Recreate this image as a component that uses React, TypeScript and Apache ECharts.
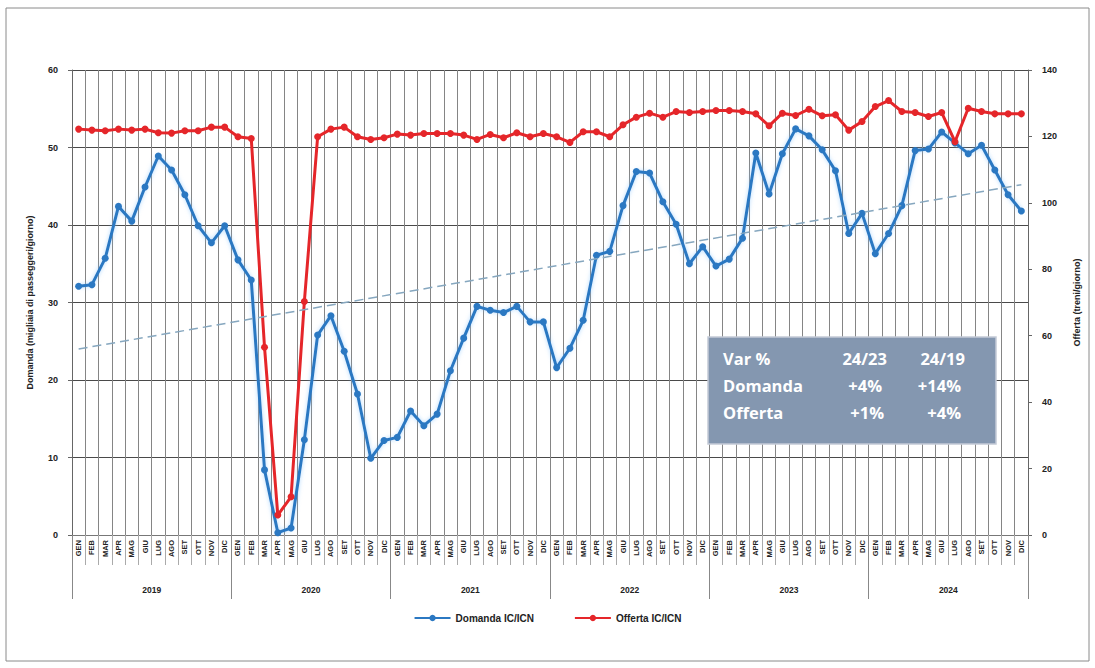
import React, { useEffect, useRef } from "react";
import * as echarts from "echarts";

const months = ["GEN", "FEB", "MAR", "APR", "MAG", "GIU", "LUG", "AGO", "SET", "OTT", "NOV", "DIC"];
const years = ["2019", "2020", "2021", "2022", "2023", "2024"];

const domanda = [
  32.1, 32.3, 35.7, 42.4, 40.5, 44.9, 48.9, 47.1, 43.9, 39.9, 37.7, 39.9,
  35.5, 32.9, 8.4, 0.3, 0.9, 12.3, 25.8, 28.3, 23.7, 18.2, 9.9, 12.2,
  12.6, 16.0, 14.1, 15.6, 21.2, 25.4, 29.5, 29.0, 28.7, 29.5, 27.5, 27.5,
  21.6, 24.1, 27.7, 36.1, 36.6, 42.5, 46.9, 46.7, 43.0, 40.1, 35.0, 37.2,
  34.7, 35.6, 38.3, 49.3, 44.0, 49.2, 52.4, 51.5, 49.7, 47.0, 38.9, 41.5,
  36.3, 38.9, 42.5, 49.6, 49.8, 52.0, 50.6, 49.2, 50.3, 47.1, 43.9, 41.8,
];

const offerta = [
  122.2, 121.9, 121.7, 122.2, 121.9, 122.2, 121.1, 121.0, 121.7, 121.7, 122.8, 122.8,
  119.9, 119.4, 56.5, 6.0, 11.5, 70.3, 119.9, 122.2, 122.8, 119.9, 119.1, 119.6,
  120.7, 120.4, 120.9, 120.9, 120.9, 120.4, 119.1, 120.6, 119.6, 121.1, 119.9, 120.9,
  119.9, 118.2, 121.4, 121.4, 119.9, 123.5, 125.8, 127.0, 125.8, 127.5, 127.2, 127.5,
  127.8, 127.8, 127.5, 126.8, 123.2, 127.0, 126.3, 128.2, 126.2, 126.5, 121.9, 124.5,
  129.0, 130.8, 127.5, 127.2, 126.0, 127.2, 118.4, 128.5, 127.5, 126.8, 126.8, 126.8,
];

// trend line endpoints (demand, first and last month)
const trendStart = 24.0;
const trendEnd = 45.2;

const boxRows = [
  ["Var %", "24/23", "24/19"],
  ["Domanda", "+4%", "+14%"],
  ["Offerta", "+1%", "+4%"],
];

const categories: string[] = [];
years.forEach((y) => months.forEach((m) => categories.push(m + "|" + y)));

const FONT = "'Liberation Sans', Arial, sans-serif";
const BOXFONT = "bold 16.5px 'Open Sans', Lato, sans-serif";

export default function App() {
  const ref = useRef<HTMLDivElement>(null);
  useEffect(() => {
    const chart = echarts.init(ref.current!, undefined, { renderer: "svg" });
    const boxX = 708;
    const boxY = 337;
    const rowY = [358, 385, 412];
    const boxTexts: any[] = [];
    boxRows.forEach((row, r) => {
      boxTexts.push({
        type: "text",
        x: boxX + 15,
        y: rowY[r],
        style: { text: row[0], fill: "#ffffff", font: BOXFONT, align: "left", verticalAlign: "middle" },
      });
      boxTexts.push({
        type: "text",
        x: r === 0 ? 887 : r === 1 ? 882 : 884,
        y: rowY[r],
        style: { text: row[1], fill: "#ffffff", font: BOXFONT, align: "right", verticalAlign: "middle" },
      });
      boxTexts.push({
        type: "text",
        x: r === 0 ? 965 : 961,
        y: rowY[r],
        style: { text: row[2], fill: "#ffffff", font: BOXFONT, align: "right", verticalAlign: "middle" },
      });
    });

    chart.setOption({
      animation: false,
      backgroundColor: "#ffffff",
      grid: { left: 72, right: 67, top: 70, bottom: 133, containLabel: false },
      legend: {
        bottom: 40,
        left: "center",
        itemWidth: 36,
        itemHeight: 8,
        itemGap: 40,
        textStyle: { fontFamily: FONT, fontSize: 10, fontWeight: "bold", color: "#222" },
        data: ["Domanda IC/ICN", "Offerta IC/ICN"],
      },
      xAxis: [
        {
          type: "category",
          data: categories,
          boundaryGap: true,
          axisLine: { show: true, lineStyle: { color: "#777", width: 1 } },
          axisTick: { show: true, interval: 0, length: 30, lineStyle: { color: "#aaa" } },
          splitLine: { show: true, interval: 0, lineStyle: { color: "#858585", width: 1 } },
          axisLabel: {
            interval: 0,
            rotate: 90,
            margin: 5,
            fontFamily: FONT,
            fontSize: 7.5,
            fontWeight: "bold",
            color: "#222",
            formatter: (v: string) => v.split("|")[0],
          },
        },
        {
          type: "category",
          data: years,
          position: "bottom",
          boundaryGap: true,
          axisLine: { show: false },
          axisTick: { show: true, interval: 0, length: 64, lineStyle: { color: "#888" } },
          splitLine: { show: false },
          axisLabel: { margin: 50, fontFamily: FONT, fontSize: 8.5, fontWeight: "bold", color: "#222" },
        },
      ],
      yAxis: [
        {
          type: "value",
          min: 0,
          max: 60,
          interval: 10,
          name: "Domanda (migliaia di passeggeri/giorno)",
          nameLocation: "middle",
          nameRotate: 90,
          nameGap: 38,
          nameTextStyle: { fontFamily: FONT, fontSize: 9, fontWeight: "bold", color: "#222" },
          axisLine: { show: true, lineStyle: { color: "#666" } },
          axisTick: { show: true, length: 4, lineStyle: { color: "#666" } },
          axisLabel: { margin: 14, fontFamily: FONT, fontSize: 9, fontWeight: "bold", color: "#222" },
          splitLine: { show: true, lineStyle: { color: "#4a4a4a", width: 1 } },
        },
        {
          type: "value",
          min: 0,
          max: 140,
          interval: 20,
          position: "right",
          name: "Offerta (treni/giorno)",
          nameLocation: "middle",
          nameRotate: 90,
          nameGap: 44,
          nameTextStyle: { fontFamily: FONT, fontSize: 9, fontWeight: "bold", color: "#222" },
          axisLine: { show: true, lineStyle: { color: "#666" } },
          axisTick: { show: true, length: 4, lineStyle: { color: "#666" } },
          axisLabel: { margin: 14, fontFamily: FONT, fontSize: 9, fontWeight: "bold", color: "#222" },
          splitLine: { show: false },
        },
      ],
      series: [
        {
          name: "Domanda IC/ICN",
          type: "line",
          yAxisIndex: 0,
          xAxisIndex: 0,
          data: domanda,
          color: "#2b78c2",
          symbol: "circle",
          symbolSize: 7,
          lineStyle: { width: 3, color: "#2b78c2", shadowBlur: 4, shadowColor: "rgba(120,190,255,0.6)" },
          itemStyle: { color: "#2b78c2" },
          z: 3,
          markLine: {
            silent: true,
            symbol: "none",
            label: { show: false },
            lineStyle: { type: [9, 5], color: "#86a7bf", width: 1.5 },
            data: [[{ coord: [0, trendStart] }, { coord: [71, trendEnd] }]],
          },
        },
        {
          name: "Offerta IC/ICN",
          type: "line",
          yAxisIndex: 1,
          xAxisIndex: 0,
          data: offerta,
          color: "#e5262a",
          symbol: "circle",
          symbolSize: 7,
          lineStyle: { width: 3, color: "#e5262a" },
          itemStyle: { color: "#e5262a" },
          z: 4,
        },
      ],
      graphic: [
        {
          type: "rect",
          shape: { x: 6, y: 8, width: 1083, height: 653 },
          style: { fill: "none", stroke: "#8a8a8a", lineWidth: 1 },
          silent: true,
          z: -10,
        },
        {
          type: "rect",
          shape: { x: boxX, y: boxY, width: 288, height: 107 },
          style: { fill: "#8497b0", stroke: "#c3cad6", lineWidth: 1.5 },
          z: 100,
        },
        ...boxTexts.map((t) => ({ ...t, z: 101 })),
      ],
    });
    return () => chart.dispose();
  }, []);
  return (
    <div style={{ position: "fixed", left: 0, top: 0, width: 1095, height: 668, background: "#fff" }}>
      <div ref={ref} style={{ width: 1095, height: 668 }} />
    </div>
  );
}
